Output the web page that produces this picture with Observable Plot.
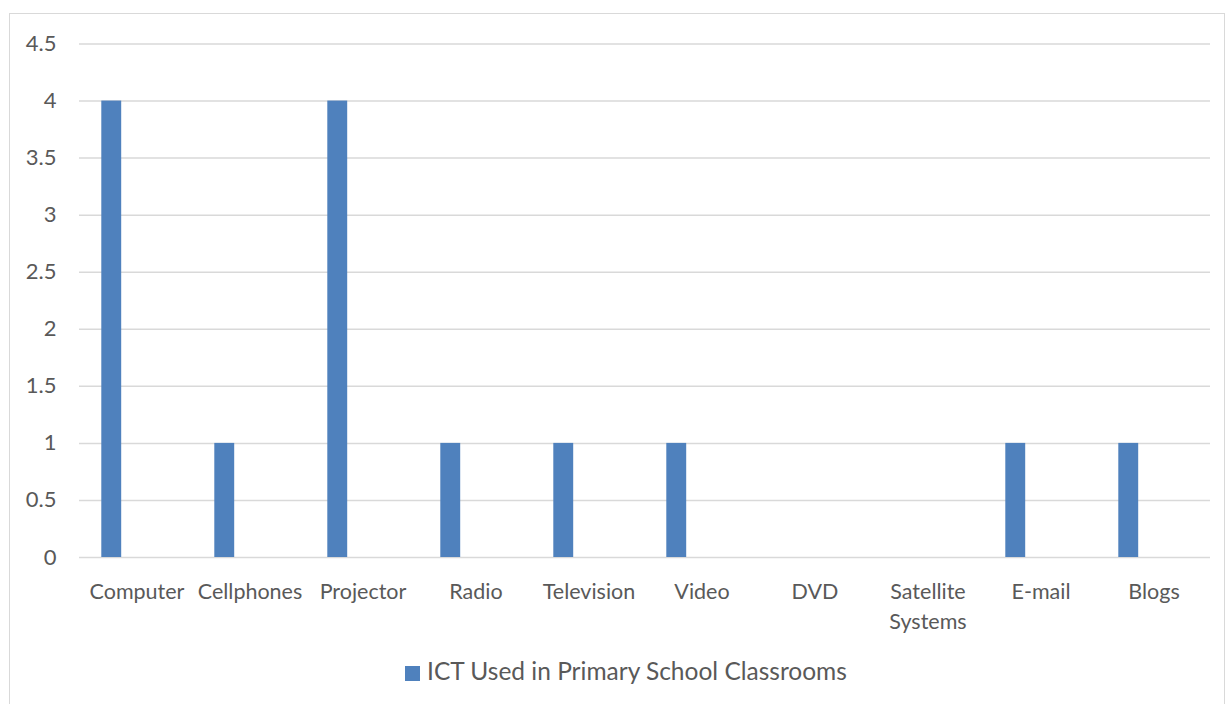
<!DOCTYPE html>
<html>
<head>
<meta charset="utf-8">
<script src="https://cdn.jsdelivr.net/npm/d3@7"></script>
<script src="https://cdn.jsdelivr.net/npm/@observablehq/plot@0.6"></script>
<style>
  html, body { margin: 0; padding: 0; background: #fff; width: 1227px; height: 704px; overflow: hidden; }
  #frame { position: absolute; left: 9px; top: 13px; width: 1216px; height: 720px; border: 1.5px solid #d9d9d9; box-sizing: border-box; }
  #chart { position: absolute; left: 0; top: 0; }
  #legend { position: absolute; left: 0; top: 657px; width: 1227px; padding-left: 25px; box-sizing: border-box; text-align: center; font-family: Lato, sans-serif; font-size: 24.5px; line-height: 28px; color: #595959; }
  #legend .sw { display: inline-block; width: 15px; height: 15px; background: #4F81BD; margin-right: 7px; vertical-align: -1px; }
</style>
</head>
<body>
<div id="frame"></div>
<div id="chart"></div>
<div id="legend"><span class="sw"></span><span id="legtext"></span></div>
<script>
const categories = ["Computer", "Cellphones", "Projector", "Radio", "Television", "Video", "DVD", "Satellite Systems", "E-mail", "Blogs"];
const values = [4, 1, 4, 1, 1, 1, 0, 0, 1, 1];
const yTicks = [0, 0.5, 1, 1.5, 2, 2.5, 3, 3.5, 4, 4.5];
const seriesName = "ICT Used in Primary School Classrooms";

const data = categories.map((c, i) => ({category: c, value: values[i]}));
const labelFor = c => c === "Satellite Systems" ? "Satellite\nSystems" : c;

const chart = Plot.plot({
  width: 1227,
  height: 640,
  marginTop: 43.5,
  marginBottom: 83,
  marginLeft: 79,
  marginRight: 17,
  style: {fontFamily: "Lato, sans-serif", fontSize: "21px", color: "#595959", background: "transparent"},
  x: {domain: categories, padding: 0},
  y: {domain: [0, 4.5]},
  marks: [
    Plot.gridY(yTicks, {stroke: "#d9d9d9", strokeOpacity: 1, strokeWidth: 1.5}),
    Plot.barY(data, {x: "category", y: "value", fill: "#4F81BD", insetLeft: 21.3, insetRight: 71.8}),
    Plot.axisY({ticks: yTicks, tickSize: 0, tickPadding: 23, label: null, tickFormat: d => String(d), fill: "#595959", fontSize: 22}),
    Plot.axisX({tickSize: 0, tickPadding: 21, label: null, tickFormat: labelFor, fill: "#595959", fontSize: 21.5, lineHeight: 1.36})
  ]
});
document.getElementById("chart").appendChild(chart);
document.getElementById("legtext").textContent = seriesName;
</script>
</body>
</html>
